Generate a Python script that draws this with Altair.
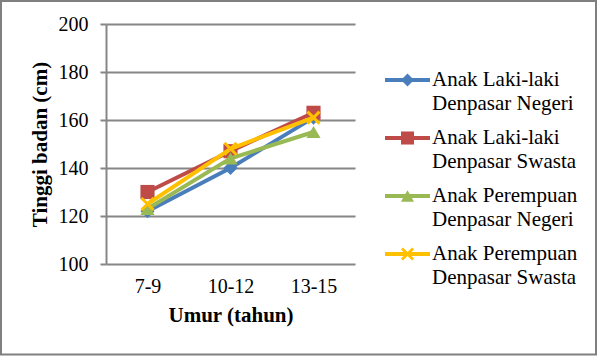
import altair as alt
import pandas as pd

# ---- data ----
ages = ["7-9", "10-12", "13-15"]
series = [
    "Anak Laki-laki Denpasar Negeri",
    "Anak Laki-laki Denpasar Swasta",
    "Anak Perempuan Denpasar Negeri",
    "Anak Perempuan Denpasar Swasta",
]
legend_line1 = ["Anak Laki-laki", "\u00a0Anak Laki-laki", "Anak Perempuan", "Anak Perempuan"]
legend_line2 = ["Denpasar Negeri", "Denpasar Swasta", "Denpasar Negeri", "Denpasar Swasta"]
laki_negeri = [122, 140, 161]
laki_swasta = [130, 147, 163]
perempuan_negeri = [123, 144, 155]
perempuan_swasta = [125, 148, 161]
y_ticks = [100, 120, 140, 160, 180, 200]

values = [laki_negeri, laki_swasta, perempuan_negeri, perempuan_swasta]

# ---- styles ----
colors = ["#4A7EBB", "#BE4B48", "#98B954", "#FFC000"]
X_PATH = "M-1,-0.7L-0.7,-1L1,0.7L0.7,1Z M-1,0.7L0.7,-1L1,-0.7L-0.7,1Z"
shapes = ["diamond", "square", "triangle-up", X_PATH]
FONT = "Liberation Serif, Times New Roman, serif"
GRID = "#868686"

rows = []
for s, vals in zip(series, values):
    for a, v in zip(ages, vals):
        rows.append({"series": s, "age": a, "value": v})
df = pd.DataFrame(rows)
leg_df = pd.DataFrame({"series": series, "line1": legend_line1, "line2": legend_line2})

color_scale = alt.Scale(domain=series, range=colors)
shape_scale = alt.Scale(domain=series, range=shapes)

x_enc = alt.X(
    "age:N",
    sort=ages,
    scale=alt.Scale(type="point", domain=ages, padding=0.5),
    axis=alt.Axis(
        title="Umur (tahun)",
        labelAngle=0,
        ticks=False,
        domain=False,
        grid=False,
        labelFont=FONT,
        labelFontSize=20,
        labelColor="black",
        labelPadding=12,
        titleFont=FONT,
        titleFontSize=21,
        titleFontWeight="bold",
        titleColor="black",
        titlePadding=8,
    ),
)
y_enc = alt.Y(
    "value:Q",
    scale=alt.Scale(domain=[100, 200], nice=False, zero=False),
    axis=alt.Axis(
        values=y_ticks,
        title="Tinggi badan (cm)",
        labelFont=FONT,
        labelFontSize=20,
        labelColor="black",
        labelPadding=12,
        tickSize=6,
        tickColor=GRID,
        tickWidth=2,
        domainColor=GRID,
        domainWidth=2,
        gridColor=GRID,
        gridWidth=2,
        titleFont=FONT,
        titleFontSize=21,
        titleFontWeight="bold",
        titleColor="black",
        titlePadding=8,
    ),
)
c_enc = alt.Color("series:N", scale=color_scale, legend=None)
s_enc = alt.Shape("series:N", scale=shape_scale, legend=None)

plot_layers = []
for s in series:
    base = alt.Chart(df).transform_filter(alt.datum.series == s)
    plot_layers.append(
        base.mark_line(strokeWidth=4, strokeJoin="round").encode(x=x_enc, y=y_enc, color=c_enc)
    )
    plot_layers.append(
        base.mark_point(filled=True, size=200, opacity=1).encode(
            x=x_enc, y=y_enc, color=c_enc, shape=s_enc
        )
    )
plot = alt.layer(*plot_layers)

# ---- legend drawn as its own layer ----
leg_y = alt.Y(
    "series:N",
    scale=alt.Scale(type="point", domain=series, range=[56, 230], padding=0),
    axis=None,
)
leg = alt.Chart(leg_df)
leg_rule = leg.mark_rule(strokeWidth=4).encode(
    x=alt.value(279), x2=alt.value(324), y=leg_y, color=c_enc
)
leg_pts = leg.mark_point(filled=True, size=170, opacity=1).encode(
    x=alt.value(301.5), y=leg_y, color=c_enc, shape=s_enc
)
leg_t1 = leg.mark_text(
    align="left", baseline="middle", font=FONT, fontSize=21, color="black"
).encode(x=alt.value(326), y=leg_y, text="line1:N")
leg_t2 = leg.mark_text(
    align="left", baseline="middle", font=FONT, fontSize=21, color="black", dy=24
).encode(x=alt.value(326), y=leg_y, text="line2:N")
legend = alt.layer(leg_rule, leg_pts, leg_t1, leg_t2)

# ---- outer frame ----
frame = alt.Chart(pd.DataFrame({"f": [0]})).mark_rect(
    fillOpacity=0, stroke="#808080", strokeWidth=2
).encode(x=alt.value(-105), x2=alt.value(490), y=alt.value(-23), y2=alt.value(330.5))

chart = (
    alt.layer(plot, legend, frame)
    .resolve_scale(y="independent")
    .properties(
        width=249,
        height=240,
        autosize=alt.AutoSizeParams(type="none"),
        padding={"left": 106, "top": 24, "right": 242, "bottom": 93},
        background="white",
    )
    .configure_view(strokeWidth=0)
)

chart.save("out.html", embed_options={"renderer": "svg", "actions": False})
